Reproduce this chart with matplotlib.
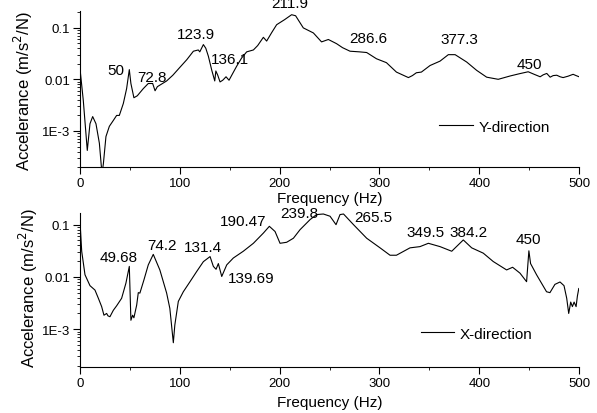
import matplotlib
matplotlib.use("Agg")
import matplotlib.pyplot as plt
from matplotlib.ticker import FixedLocator, FixedFormatter, LogLocator, NullFormatter, MultipleLocator

plt.rcParams['font.family'] = ['Liberation Sans', 'DejaVu Sans']

# Y-direction response (top panel)
freq_y = [0, 3.3, 7.3, 10, 12.7, 16, 19.4, 22, 23.4, 26, 29.4, 33.4, 36.7, 39.4, 43.4,
          46.7, 49.4, 51, 54, 57.4, 63.4, 68.4, 72.8, 75.2, 77.5, 86.8, 93, 100, 107,
          113.6, 118.5, 120, 123.6, 126, 128.6, 132, 135, 136.1, 138, 140.3, 143, 146.3,
          149.3, 153, 157, 162, 167, 173.7, 178, 183.7, 187, 192, 197, 205, 212, 216,
          223.7, 233.8, 242, 248.8, 257, 263, 270.5, 280, 287.2, 297, 307, 317, 329,
          333, 337, 342, 350.7, 360.7, 369, 375.8, 387.4, 397.4, 407.4, 419, 430.9,
          440, 449, 455, 461, 464, 467.6, 471, 474, 477.6, 481, 484, 489, 494, 497, 500]
acc_y = [0.016, 3.9e-3, 4.2e-4, 1.38e-3, 1.9e-3, 1.38e-3, 5.8e-4, 1.5e-4, 2.3e-4, 7.8e-4,
         1.23e-3, 1.6e-3, 2.0e-3, 2.0e-3, 3.4e-3, 6.6e-3, 0.0154, 8.3e-3, 4.4e-3, 4.8e-3,
         6.6e-3, 8.3e-3, 8.3e-3, 6.0e-3, 7.2e-3, 9.3e-3, 0.012, 0.017, 0.024, 0.035,
         0.037, 0.034, 0.047, 0.040, 0.028, 0.015, 9.3e-3, 0.0145, 0.012, 8.9e-3, 9.6e-3,
         0.0112, 9.6e-3, 0.013, 0.018, 0.026, 0.034, 0.037, 0.045, 0.065, 0.055, 0.080,
         0.114, 0.143, 0.178, 0.170, 0.099, 0.079, 0.053, 0.059, 0.049, 0.041, 0.035,
         0.034, 0.033, 0.025, 0.021, 0.0138, 0.0108, 0.0118, 0.0134, 0.0138, 0.0185,
         0.0225, 0.030, 0.030, 0.0216, 0.0149, 0.011, 0.010, 0.0116, 0.0128, 0.0140,
         0.0125, 0.0112, 0.0122, 0.013, 0.011, 0.0118, 0.012, 0.0112, 0.0108, 0.0115,
         0.0125, 0.0118, 0.0112]

# X-direction response (bottom panel)
freq_x = [0, 1.7, 5, 10, 15, 18.4, 21.7, 24, 26.7, 28, 30, 33.4, 36.7, 41.7, 46, 49.4,
          51, 52.7, 54, 56.8, 58.4, 60, 64, 68.4, 73.4, 80, 86.8, 90, 93.5, 95, 98.5,
          103.5, 110.2, 116.9, 123.6, 130.3, 133.6, 136.3, 138.6, 142, 147, 153.6, 163.6,
          173.7, 183.7, 189.7, 195.4, 200.4, 207, 213.8, 220.4, 230.5, 237, 243.8, 250.5,
          256.5, 260.5, 264, 274, 287.2, 300.6, 310.6, 317, 330.6, 340.6, 349, 360.7,
          372.4, 384, 392.4, 404, 414, 427.4, 433.4, 440.8, 447.4, 449.7, 451.4, 457.4,
          467.4, 470.8, 475.8, 480.9, 484.9, 487.6, 489.6, 491.6, 493.3, 495, 497, 498.3,
          499.7]
acc_x = [0.116, 0.031, 0.011, 6.8e-3, 5.6e-3, 3.9e-3, 2.7e-3, 1.85e-3, 2.0e-3, 1.8e-3,
         1.73e-3, 2.3e-3, 2.8e-3, 3.9e-3, 7.6e-3, 0.0159, 1.48e-3, 1.85e-3, 1.65e-3,
         2.9e-3, 5.0e-3, 4.9e-3, 8.7e-3, 0.017, 0.027, 0.0136, 4.9e-3, 2.5e-3, 5.5e-4,
         1.2e-3, 3.4e-3, 5.2e-3, 8.1e-3, 0.0127, 0.0196, 0.0245, 0.0159, 0.014, 0.018,
         0.0102, 0.017, 0.023, 0.031, 0.044, 0.069, 0.093, 0.074, 0.044, 0.046, 0.055,
         0.080, 0.125, 0.156, 0.16, 0.145, 0.10, 0.156, 0.16, 0.10, 0.055, 0.036, 0.026,
         0.026, 0.036, 0.038, 0.044, 0.038, 0.031, 0.051, 0.036, 0.0285, 0.0197, 0.0136,
         0.0153, 0.0118, 8.1e-3, 0.0316, 0.018, 0.011, 5.2e-3, 5.0e-3, 7.2e-3, 8.0e-3,
         6.8e-3, 3.9e-3, 2.0e-3, 3.3e-3, 2.7e-3, 3.3e-3, 2.7e-3, 4.3e-3, 6.0e-3]

# peak labels: (text, freq, value)
peaks_y = [("50", 36, 0.015), ("72.8", 71.8, 0.0112), ("123.9", 116.2, 0.077),
           ("136.1", 150.3, 0.025), ("211.9", 210.4, 0.30), ("286.6", 288.9, 0.063),
           ("377.3", 380, 0.059), ("450", 450.2, 0.020)]
peaks_x = [("49.68", 38.4, 0.0245), ("74.2", 82.5, 0.040), ("131.4", 122.9, 0.038),
           ("139.69", 172, 0.0094), ("190.47", 163.6, 0.116), ("239.8", 220, 0.167),
           ("265.5", 293.9, 0.141), ("349.5", 346.4, 0.071), ("384.2", 389, 0.071),
           ("450", 449.2, 0.053)]

fig = plt.figure(figsize=(5.97, 4.14), dpi=100)
ax_top = fig.add_axes([0.134, 0.594, 0.836, 0.377])
ax_bot = fig.add_axes([0.134, 0.110, 0.836, 0.374])


def style_axis(ax, ylim, leg_label, leg_anchor, peaks, ylab_x, ylab_y, xlab_y):
    ax.set_yscale('log')
    ax.set_xlim(0, 500)
    ax.set_ylim(*ylim)
    for s in ('top', 'right'):
        ax.spines[s].set_visible(False)
    for s in ('left', 'bottom'):
        ax.spines[s].set_linewidth(0.8)
    ax.xaxis.set_major_locator(MultipleLocator(100))
    ax.xaxis.set_minor_locator(MultipleLocator(50))
    ax.yaxis.set_major_locator(FixedLocator([1e-3, 1e-2, 1e-1]))
    ax.yaxis.set_major_formatter(FixedFormatter(["1E-3", "0.01", "0.1"]))
    ax.yaxis.set_minor_locator(LogLocator(base=10, subs=range(2, 10)))
    ax.yaxis.set_minor_formatter(NullFormatter())
    ax.tick_params(which='major', direction='out', length=5, width=0.8, labelsize=9.5, pad=2)
    ax.tick_params(which='minor', direction='out', length=2.5, width=0.6)
    ax.set_xlabel("Frequency (Hz)", fontsize=11)
    ax.set_ylabel("Accelerance (m/s$^2$/N)", fontsize=12)
    ax.yaxis.set_label_coords(ylab_x, ylab_y)
    ax.xaxis.set_label_coords(0.5, xlab_y)
    for txt, f, v in peaks:
        ax.text(f, v, txt, fontsize=11, ha='center', va='center', clip_on=False)
    ax.legend([leg_label], loc='center left', bbox_to_anchor=leg_anchor, frameon=False,
              fontsize=11, handlelength=2.2, handletextpad=0.35, borderpad=0,
              borderaxespad=0)


ax_top.plot(freq_y, acc_y, color='black', lw=0.8, label="Y-direction")
style_axis(ax_top, (2.0e-4, 0.21), "Y-direction", (0.72, 0.26), peaks_y, -0.09, 0.49, -0.155)

ax_bot.plot(freq_x, acc_x, color='black', lw=0.8, label="X-direction")
style_axis(ax_bot, (1.85e-4, 0.17), "X-direction", (0.683, 0.219), peaks_x, -0.08, 0.516, -0.18)

fig.savefig("out.png", dpi=100)
